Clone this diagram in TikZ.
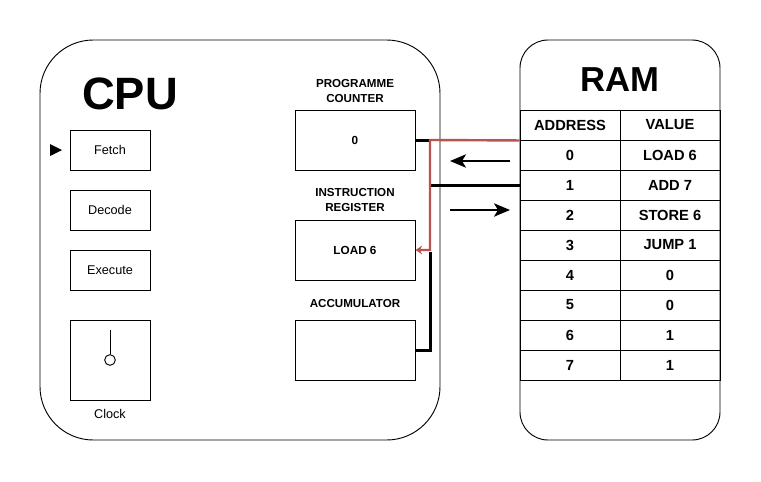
\documentclass[tikz,border=0pt]{standalone}
\usepackage{fontspec}
\setmainfont{Liberation Sans}
\usetikzlibrary{arrows.meta}
\definecolor{wire}{HTML}{B85450}

\begin{document}
\begin{tikzpicture}[x=0.75pt,y=-0.75pt,line width=0.7pt]
\tikzstyle{every node}=[inner sep=0pt, font=\fontsize{9.5}{11}\selectfont]
\tikzstyle{box}=[draw, minimum width=60pt, minimum height=30pt]
\tikzstyle{reg}=[draw, minimum width=90pt, minimum height=45pt, font=\bfseries\fontsize{8.8}{10}\selectfont]
\tikzstyle{lbl}=[align=center, font=\bfseries\fontsize{8.7}{11.25}\selectfont]
\tikzstyle{cell}=[draw, minimum width=75pt, minimum height=22.5pt, font=\bfseries\fontsize{11}{13}\selectfont]
\tikzstyle{bus}=[line width=2.25pt]
\tikzstyle{flow}=[line width=1.5pt, -{Stealth[length=12pt,width=10pt,inset=3pt]}]
\useasboundingbox (0,0) rectangle (761,482);
% cpu
\draw (240,240) node (cpu) [draw, rounded corners=40pt, minimum width=300pt, minimum height=300pt] {};
\draw (130,94) node (cputitle) [font=\bfseries\fontsize{34}{40}\selectfont] {CPU};
\draw (110,150) node (fetch) [box] {Fetch};
\draw (110,210) node (decode) [box] {Decode};
\draw (110,270) node (execute) [box] {Execute};
\draw (110,360) node (clock) [draw, minimum width=60pt, minimum height=60pt] {};
\draw (110,414) node (clocklbl) {Clock};
\draw (110,360) node (hub) [draw, circle, minimum size=8pt] {};
\coordinate (hand) at (110,330);
\draw (hub.north) -- (hand);
\fill (50,144) -- (62,150) -- (50,156) -- cycle;
\draw (355,91) node (pclbl) [lbl] {PROGRAMME\\COUNTER};
\draw (355,140) node (pc) [reg] {0};
\draw (355,200) node (irlbl) [lbl] {INSTRUCTION\\REGISTER};
\draw (355,250) node (ir) [reg] {LOAD 6};
\draw (355,304) node (acclbl) [lbl] {ACCUMULATOR};
\draw (355,350) node (acc) [reg] {};
% ram
\draw (620,240) node (ram) [draw, rounded corners=21pt, minimum width=150pt, minimum height=300pt] {};
\draw (620,80) node (ramtitle) [font=\bfseries\fontsize{26}{30}\selectfont] {RAM};
\draw (570,125) node (hA) [cell] {ADDRESS};
\draw (670,125) node (hV) [cell] {VALUE};
\draw (570,155) node (a0) [cell] {0};
\draw (670,155) node (v0) [cell] {LOAD 6};
\draw (570,185) node (a1) [cell] {1};
\draw (670,185) node (v1) [cell] {ADD 7};
\draw (570,215) node (a2) [cell] {2};
\draw (670,215) node (v2) [cell] {STORE 6};
\draw (570,245) node (a3) [cell] {3};
\draw (670,245) node (v3) [cell] {JUMP 1};
\draw (570,275) node (a4) [cell] {4};
\draw (670,275) node (v4) [cell] {0};
\draw (570,305) node (a5) [cell] {5};
\draw (670,305) node (v5) [cell] {0};
\draw (570,335) node (a6) [cell] {6};
\draw (670,335) node (v6) [cell] {1};
\draw (570,365) node (a7) [cell] {7};
\draw (670,365) node (v7) [cell] {1};
% buses
\coordinate (j1) at (430,140);
\coordinate (j2) at (431,185);
\coordinate (j3) at (430,252);
\draw [bus] (pc.east) -- (j1);
\draw [bus] (a1.west) -- (j2);
\draw [bus] (j3) |- (acc.east);
\draw [wire, line width=1.8pt, -{Stealth[length=5pt,width=6.5pt]}] (hA.south west) -- (j1) |- (ir.east);
\coordinate (in1) at (510,161);
\coordinate (in2) at (450,161);
\coordinate (out1) at (450,210);
\coordinate (out2) at (510,210);
\draw [flow] (in1) -- (in2);
\draw [flow] (out1) -- (out2);
\end{tikzpicture}
\end{document}
